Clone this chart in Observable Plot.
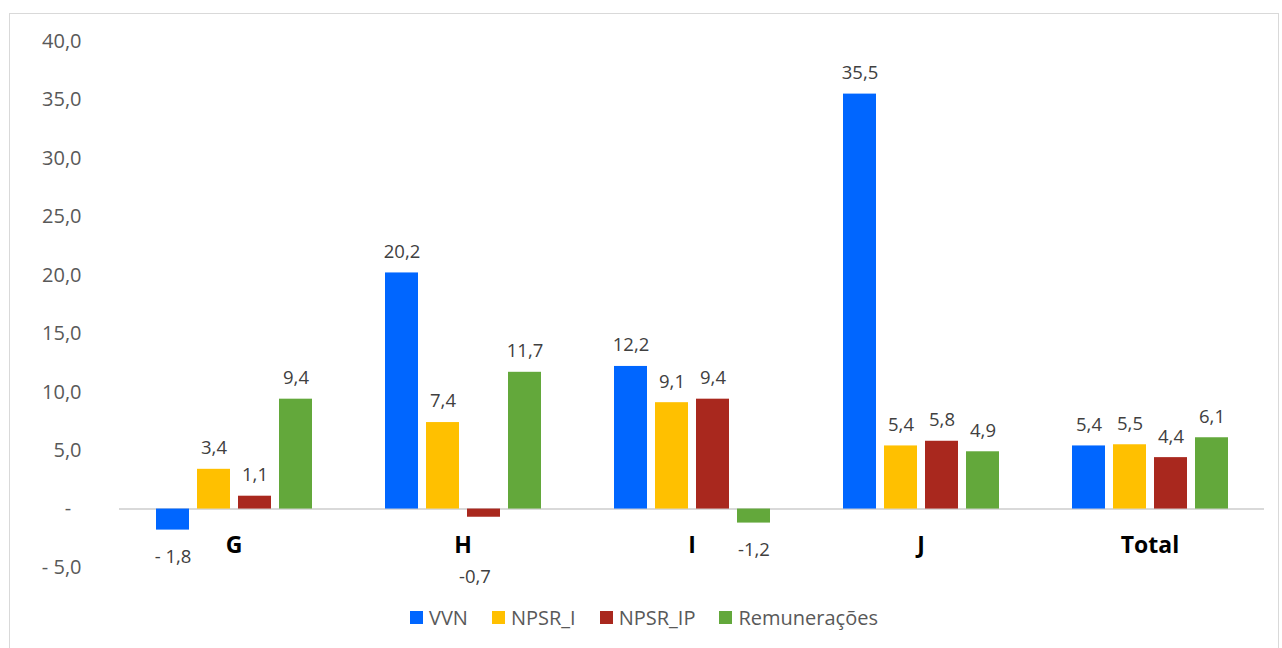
<!DOCTYPE html>
<html><head><meta charset="utf-8">
<script src="https://cdn.jsdelivr.net/npm/d3@7"></script>
<script src="https://cdn.jsdelivr.net/npm/@observablehq/plot@0.6"></script>
<style>
body{margin:0;background:#fff;font-family:"Open Sans",sans-serif;}
#box{position:absolute;left:9px;top:13px;width:1270px;height:660px;border:1px solid #d9d9d9;box-sizing:border-box;}
#chart svg{display:block;}
#legend{display:flex;justify-content:center;gap:0;margin-top:10px;font-size:20px;color:#595959;}
.item{display:flex;align-items:center;margin:0 12px;}
.sw{width:13px;height:13px;margin-right:6px;display:inline-block;}
</style></head>
<body>
<div id="box"><div id="chart"></div><div id="legend"></div></div>
<script>
const categories = ["G", "H", "I", "J", "Total"];
const series = ["VVN", "NPSR_I", "NPSR_IP", "Remunerações"];
const vvn = [-1.8, 20.2, 12.2, 35.5, 5.4];
const npsrI = [3.4, 7.4, 9.1, 5.4, 5.5];
const npsrIP = [1.1, -0.7, 9.4, 5.8, 4.4];
const remuneracoes = [9.4, 11.7, -1.2, 4.9, 6.1];
const yTicks = [-5, 0, 5, 10, 15, 20, 25, 30, 35, 40];
const colors = ["#0066FF", "#FFC000", "#A9281E", "#63A83B"];

const values = [vvn, npsrI, npsrIP, remuneracoes];
const data = [];
categories.forEach((c, i) => series.forEach((s, j) => data.push({category: c, series: s, value: values[j][i]})));

const comma = v => v.toFixed(1).replace(".", ",");
const tickFmt = v => v === 0 ? "-\u00a0\u00a0" : v < 0 ? "- " + comma(-v) : comma(v);
const labelFmt = d => d.value >= 0 ? comma(d.value) : (d.category === "G" ? "- " + comma(-d.value) : "-" + comma(-d.value));
// label below the H category name to avoid overlapping it
const shifted = d => d.category === "H";

const chart = Plot.plot({
  width: 1268, height: 580,
  marginTop: 27, marginBottom: 27, marginLeft: 108, marginRight: 13,
  style: {fontFamily: "Open Sans", background: "transparent"},
  fx: {domain: categories, padding: 0, axis: null},
  x: {domain: series, paddingInner: 0.2, paddingOuter: 0.865, axis: null},
  y: {domain: [-5, 40], axis: null},
  color: {domain: series, range: colors},
  marks: [
    Plot.axisY({ticks: yTicks, tickSize: 0, tickPadding: 38, tickFormat: tickFmt, fontSize: 20, color: "#595959", label: null}),
    Plot.ruleY([0], {stroke: "#d9d9d9", strokeWidth: 2}),
    Plot.barY(data, {fx: "category", x: "series", y: "value", fill: "series"}),
    Plot.text(data.filter(d => d.value >= 0), {fx: "category", x: "series", y: "value", text: labelFmt, dy: -21, fontSize: 18.5, fill: "#404040"}),
    Plot.text(data.filter(d => d.value < 0 && !shifted(d)), {fx: "category", x: "series", y: "value", text: labelFmt,
      dy: 27, fontSize: 18.5, fill: "#404040"}),
    Plot.text(data.filter(d => d.value < 0 && shifted(d)), {fx: "category", x: "series", y: "value", text: labelFmt,
      dy: 60, dx: -9, fontSize: 18.5, fill: "#404040"}),
    Plot.text(categories, {fx: d => d, text: d => d, frameAnchor: "bottom", dy: -22, lineAnchor: "middle", fontSize: 23, fontWeight: "bold", fill: "#000"})
  ]
});
document.getElementById("chart").appendChild(chart);

const legend = document.getElementById("legend");
series.forEach((s, i) => {
  const it = document.createElement("div"); it.className = "item";
  const sw = document.createElement("span"); sw.className = "sw"; sw.style.background = colors[i];
  it.appendChild(sw); it.appendChild(document.createTextNode(s)); legend.appendChild(it);
});
</script>
</body></html>
